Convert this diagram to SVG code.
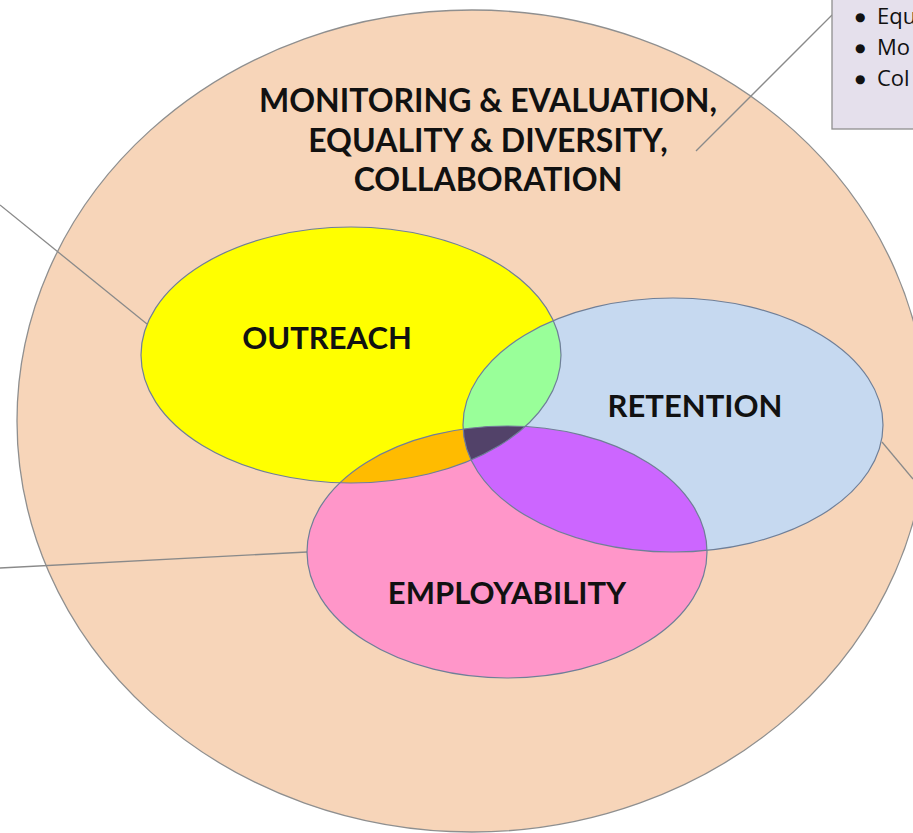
<svg xmlns="http://www.w3.org/2000/svg" width="913" height="833" viewBox="0 0 913 833">
<defs>
<style>
.lbl{font-family:Lato,"Open Sans","Liberation Sans",sans-serif;font-weight:bold;font-size:31px;fill:#111;text-anchor:middle}
.hd{font-size:32px}
.bul{font-family:"Open Sans","Liberation Sans",sans-serif;font-size:22px;fill:#111}
.dot{font-family:"DejaVu Sans",sans-serif;font-size:12px}
.ln{stroke:#8a8a8a;stroke-width:1.3;fill:none}
.edge{fill:none;stroke:#6f7f98;stroke-width:1.2}
</style>
<clipPath id="cY"><ellipse cx="351" cy="355" rx="210" ry="128"/></clipPath>
<clipPath id="cB"><ellipse cx="673" cy="425" rx="210" ry="127"/></clipPath>
<clipPath id="cP"><ellipse cx="507" cy="552" rx="200" ry="126"/></clipPath>
</defs>
<rect width="913" height="833" fill="#ffffff"/>
<g id="outer">
<ellipse cx="472" cy="421" rx="455" ry="411" fill="#F7D5B9" stroke="#8f8f8f" stroke-width="1.3"/>
<text class="lbl hd" x="488" y="112">MONITORING &amp; EVALUATION,</text>
<text class="lbl hd" x="488" y="152">EQUALITY &amp; DIVERSITY,</text>
<text class="lbl hd" x="488" y="191">COLLABORATION</text>
</g>
<g id="connectors">
<line class="ln" x1="832" y1="15" x2="696" y2="151"/>
<line class="ln" x1="0" y1="205" x2="147" y2="324"/>
<line class="ln" x1="0" y1="568" x2="307" y2="552"/>
<line class="ln" x1="882" y1="442" x2="913" y2="479"/>
</g>
<g id="callout">
<rect x="832" y="-5" width="90" height="134" fill="#E5E0EC" stroke="#8f8f8f" stroke-width="1.3"/>
<text class="bul" x="855" y="24"><tspan class="dot" dy="-3">●</tspan><tspan x="877" dy="3">Equ</tspan></text>
<text class="bul" x="855" y="55"><tspan class="dot" dy="-3">●</tspan><tspan x="877" dy="3">Mo</tspan></text>
<text class="bul" x="855" y="86"><tspan class="dot" dy="-3">●</tspan><tspan x="877" dy="3">Col</tspan></text>
</g>
<g id="outreach">
<ellipse cx="351" cy="355" rx="210" ry="128" fill="#FFFF00"/>
</g>
<g id="retention">
<ellipse cx="673" cy="425" rx="210" ry="127" fill="#C6D9F0"/>
</g>
<g id="employability">
<ellipse cx="507" cy="552" rx="200" ry="126" fill="#FF96C9"/>
</g>
<g id="overlaps">
<g clip-path="url(#cY)"><ellipse cx="673" cy="425" rx="210" ry="127" fill="#99FF99"/></g>
<g clip-path="url(#cY)"><ellipse cx="507" cy="552" rx="200" ry="126" fill="#FFBB00"/></g>
<g clip-path="url(#cB)"><ellipse cx="507" cy="552" rx="200" ry="126" fill="#CC66FF"/></g>
<g clip-path="url(#cY)"><g clip-path="url(#cB)"><ellipse cx="507" cy="552" rx="200" ry="126" fill="#524269"/></g></g>
</g>
<g id="outlines">
<ellipse class="edge" cx="351" cy="355" rx="210" ry="128"/>
<ellipse class="edge" cx="673" cy="425" rx="210" ry="127"/>
<ellipse class="edge" cx="507" cy="552" rx="200" ry="126"/>
</g>
<g id="labels">
<text class="lbl" x="327" y="349">OUTREACH</text>
<text class="lbl" x="695" y="417">RETENTION</text>
<text class="lbl" x="507" y="604">EMPLOYABILITY</text>
</g>
</svg>
